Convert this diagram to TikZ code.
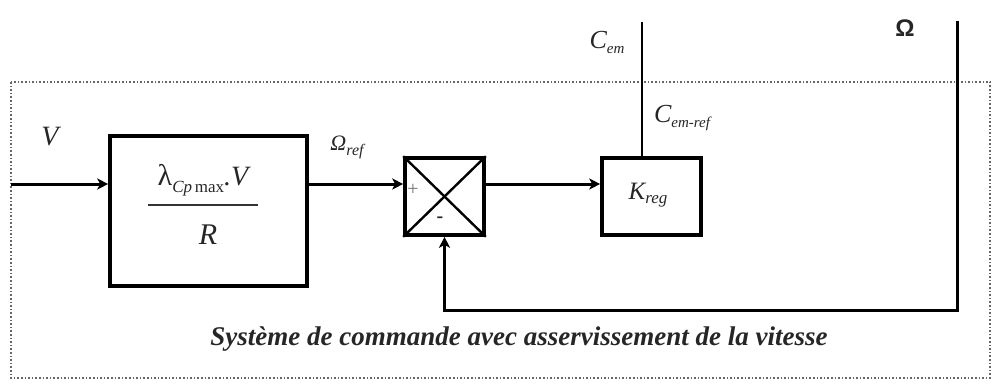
\documentclass[tikz,border=0pt]{standalone}
\usepackage{fontspec}
\setmainfont{Liberation Serif}
\newfontfamily\sansfnt{Liberation Sans}
\usetikzlibrary{arrows.meta}
\newcommand{\fs}[1]{\fontsize{#1}{#1}\selectfont}
\begin{document}
\begin{tikzpicture}[x=1pt,y=-1pt,
  blk/.style={draw, line width=3.6pt, inner sep=0pt},
  sig/.style={line width=3pt, -{Stealth[length=11pt,width=11pt,inset=3pt]}},
  wire/.style={line width=2.4pt},
  lbl/.style={inner sep=0pt, text=black!85}]
\useasboundingbox (0,0) rectangle (992,383);
\draw[dotted, line width=1.6pt, black!60] (11,82) rectangle (990,378);

\node[blk, minimum width=197pt, minimum height=150pt] (b1) at (208.5,211) {};
\node[blk, minimum width=79pt, minimum height=77pt] (sum) at (444.5,196.5) {};
\draw[wire] (sum.north west) -- (sum.south east) (sum.north east) -- (sum.south west);
\node[blk, minimum width=99pt, minimum height=77pt] (kreg) at (651.5,196.5) {};

\coordinate (in) at (11,184);
\coordinate (cemtop) at (642,22);
\coordinate (omtop) at (957,21);
\coordinate (fb) at (957,310);
\coordinate (fl) at (148,205);
\coordinate (fr) at (258,205);

\draw[sig] (in) -- (in -| b1.west);
\draw[sig] (b1.east |- in) -- (sum.west |- in);
\draw[sig] (sum.east |- in) -- (kreg.west |- in);
\draw[wire] (cemtop) -- (cemtop |- kreg.north);
\draw[sig] (omtop) -- (fb) -| (sum.south);
\draw[line width=1.8pt, black!80] (fl) -- (fr);

\node[lbl, font=\itshape\fs{28}] (lv) at (50,137) {V};
\node[lbl, anchor=base] (num) at (203,185) {{\fs{30}λ}\raisebox{-7pt}{\fs{17}\itshape Cp\,}\raisebox{-7pt}{\fs{17}max}{\fs{28}\itshape .V}};
\node[lbl, font=\itshape\fs{30}] (den) at (208,235) {R};
\node[lbl] (lor) at (347,147) {{\fs{22}\itshape Ω}\raisebox{-5pt}{\fs{16}\itshape ref}};
\node[lbl] (lk) at (648,195) {{\fs{25}\itshape K}\raisebox{-4pt}{\fs{17}\itshape reg}};
\node[lbl] (lcem) at (607,42) {{\fs{26}\itshape C}\raisebox{-5pt}{\fs{15}\itshape em}};
\node[lbl] (lcr) at (682,118) {{\fs{26}\itshape C}\raisebox{-5pt}{\fs{15}\itshape em-ref}};
\node[lbl, font=\sansfnt\bfseries\fs{24}] (lom) at (905,28) {Ω};
\node[lbl, font=\fs{20}, text=black!55] (lp) at (413,190) {+};
\node[lbl, font=\bfseries\fs{20}] (lm) at (440,220) {-};
\node[lbl, font=\bfseries\itshape\fs{27}] (cap) at (519,339) {Système de commande avec asservissement de la vitesse};
\end{tikzpicture}
\end{document}
